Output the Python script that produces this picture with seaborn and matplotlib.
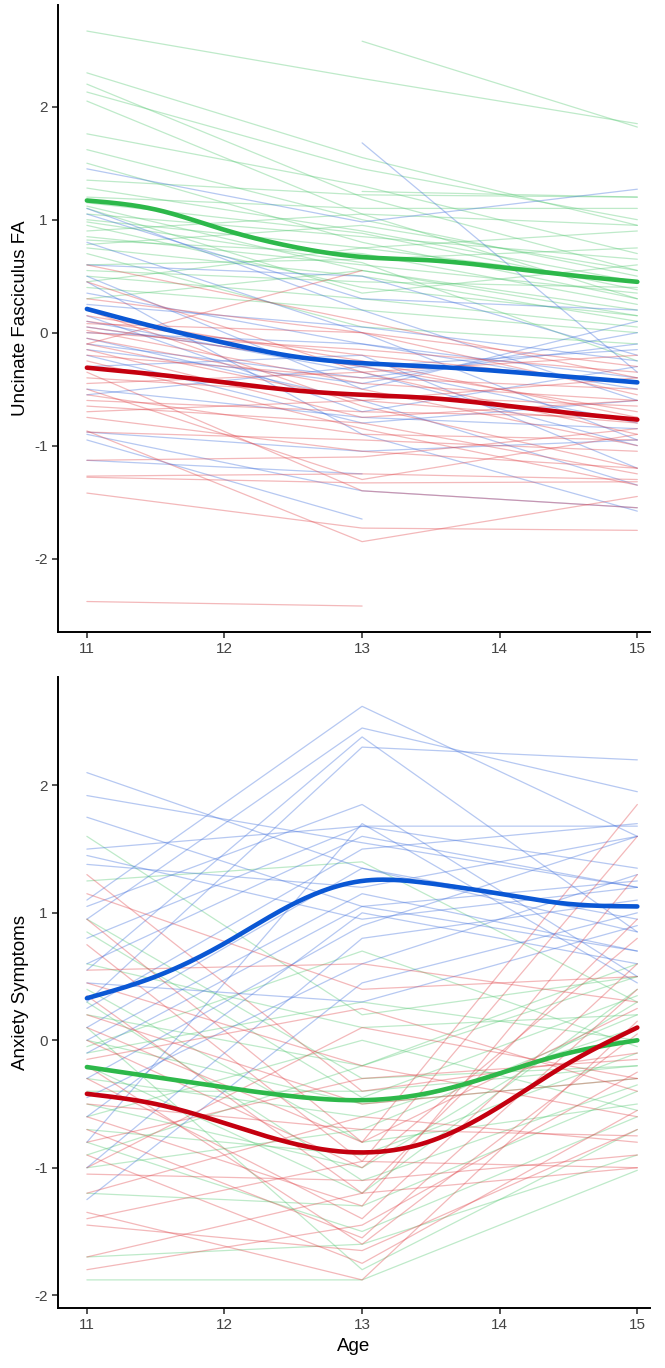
import matplotlib

matplotlib.use("Agg")
import matplotlib.pyplot as plt
import numpy as np
import pandas as pd
import seaborn as sns

sns.set_theme(style="ticks")
plt.rcParams["font.family"] = ["Liberation Sans", "DejaVu Sans"]
plt.rcParams["axes.unicode_minus"] = False

nan = np.nan
AGES = [11, 13, 15]
MEAN_AGES = [11, 11.5, 12, 12.5, 13, 13.5, 14, 14.5, 15]
GROUPS = ["green", "blue", "red"]

# ── Panel 1: Uncinate Fasciculus FA, one (age 11, 13, 15) tuple per subject ──
fa_green = [
    (2.67, 2.25, 1.85), (nan, 2.58, 1.82), (2.30, 1.55, 0.95), (2.20, 1.20, 0.55),
    (2.13, 1.45, 1.00), (2.05, 1.05, 0.30), (1.76, 1.30, 0.70), (1.35, 1.22, 1.20),
    (1.28, 0.90, 0.45), (1.20, 1.10, 1.10), (1.12, 0.55, 0.20), (1.05, 0.85, 0.65),
    (1.00, 0.75, 0.90), (0.95, 0.40, 0.15), (0.90, 1.05, 0.95), (0.85, 0.60, 0.35),
    (0.82, 0.70, 0.25), (0.78, 0.95, 0.55), (0.75, 0.50, 0.10), (0.60, 0.65, 0.75),
    (0.55, 0.45, 0.40), (0.50, 0.30, 0.05), (0.45, 0.75, 0.45), (0.40, 0.20, 0.00),
    (1.50, 0.80, 0.30), (1.10, 0.35, 0.60), (0.70, 0.05, -0.10), (0.30, 0.55, 0.15),
    (1.62, 1.00, 0.50), (nan, 1.25, 1.20), (0.98, 0.62, -0.25), (1.15, 0.88, 0.38),
]
fa_blue = [
    (1.45, 0.98, 1.27), (nan, 1.68, -0.35), (1.10, 0.20, -0.60), (1.05, 0.30, 0.20),
    (0.60, 0.50, -0.20), (0.35, -0.10, -0.50), (0.25, 0.05, -0.25), (0.10, -0.35, -1.00),
    (0.05, -0.30, -0.80), (0.00, -0.10, -0.40), (-0.05, -0.60, -1.35), (-0.10, -0.40, -0.10),
    (-0.20, -0.80, -0.60), (-0.50, -0.75, -0.85), (-0.55, -0.30, -0.15), (-0.88, -1.05, -0.95),
    (-0.95, -1.65, nan), (-1.13, -1.25, nan), (-0.90, -1.40, -1.55), (0.50, -0.50, 0.10),
    (0.80, 0.00, -0.95), (0.15, -0.70, -0.30), (-0.30, -0.20, -1.20), (0.45, -0.90, -1.58),
    (-0.15, -0.45, 0.00),
]
fa_red = [
    (0.60, 0.10, -0.40), (-0.10, 0.55, nan), (0.45, -0.35, -0.90), (0.30, 0.00, -0.30),
    (0.10, -0.20, -0.45), (0.05, -0.30, -0.70), (0.02, -0.45, -0.60), (0.00, -0.15, -0.35),
    (-0.05, -0.50, -1.00), (-0.10, -0.60, -0.80), (-0.20, -0.40, -0.50), (-0.40, -0.55, -0.65),
    (-0.55, -0.90, -0.95), (-0.60, -0.70, -0.75), (-0.65, -0.80, -1.25), (-0.70, -0.60, -0.40),
    (-0.88, -0.95, -1.05), (-1.13, -1.10, -0.85), (-1.27, -1.25, -1.30), (-1.28, -1.33, -1.32),
    (-1.42, -1.73, -1.75), (-0.87, -1.85, -1.45), (-2.38, -2.42, nan), (-0.35, -1.40, -1.55),
    (0.20, -0.65, -1.20), (-0.25, -0.85, -1.35), (0.15, -0.25, -0.75), (-0.45, -0.35, -0.20),
    (-0.75, -1.05, -1.20), (0.08, 0.00, -0.55), (-0.15, -0.75, -0.60), (-0.50, -1.30, -0.90),
]
# smoothed group trajectories read at half-year steps
fa_mean_green = [1.17, 1.09, 0.91, 0.76, 0.67, 0.64, 0.58, 0.51, 0.45]
fa_mean_blue = [0.21, 0.05, -0.09, -0.21, -0.27, -0.30, -0.34, -0.39, -0.44]
fa_mean_red = [-0.31, -0.37, -0.44, -0.51, -0.55, -0.58, -0.64, -0.71, -0.77]

# ── Panel 2: Anxiety Symptoms ──
anx_green = [
    (1.60, 0.20, 0.50), (1.25, 1.40, 0.30), (0.95, -0.30, -0.20), (0.60, 0.10, 0.20),
    (0.40, -0.80, -0.50), (0.20, -0.20, 0.60), (0.00, -0.50, -0.30), (-0.10, 0.30, 0.00),
    (-0.20, -1.20, 0.40), (-0.30, -0.60, 0.10), (-0.40, -0.40, -0.20), (-0.50, -1.00, 0.30),
    (-0.60, 0.00, -0.55), (-0.70, -0.90, -0.10), (-0.80, -1.50, -0.60), (-1.00, -0.70, 0.20),
    (-1.20, -1.30, -0.40), (-1.70, -1.60, -0.90), (-1.88, -1.88, -1.02), (0.85, -0.45, 0.35),
    (-0.05, 0.70, -0.05), (0.30, -1.10, -0.35), (-0.90, -0.20, 0.50), (0.10, -1.80, -0.70),
]
anx_blue = [
    (2.10, 1.35, 0.85), (1.92, 1.55, 1.20), (1.75, 1.05, 0.70), (1.50, 1.68, 1.68),
    (1.38, 1.20, 1.60), (1.10, 2.62, 1.60), (0.95, 2.45, 1.95), (0.55, 2.38, 0.85),
    (0.30, 2.30, 2.20), (1.05, 1.85, 0.50), (0.80, 1.68, 1.35), (0.60, 1.60, 1.20),
    (0.25, 1.50, 1.70), (0.10, 1.35, 0.95), (-0.10, 1.05, 1.25), (-0.30, 0.90, 1.60),
    (-0.60, 1.00, 0.60), (-0.80, 1.70, 0.45), (-1.00, 0.80, 1.10), (-1.25, 0.45, 1.00),
    (0.45, 0.30, 0.90), (0.00, 1.15, 0.70), (1.45, 0.95, 1.20), (-0.45, 0.60, 1.30),
]
anx_red = [
    (1.30, -0.40, -0.10), (1.15, 0.40, 0.50), (0.95, -0.80, 1.85), (0.55, 0.60, 0.30),
    (0.35, -1.20, 0.95), (0.20, -0.50, -0.30), (0.00, -1.00, 0.80), (-0.15, 0.25, -0.40),
    (-0.30, -1.40, 0.60), (-0.50, -0.70, -0.75), (-0.70, -1.55, 0.40), (-0.80, -0.30, -0.15),
    (-0.90, -1.75, -0.55), (-1.05, -1.10, -0.90), (-1.20, -0.60, -0.80), (-1.35, -1.88, 0.15),
    (-1.40, -0.95, -1.00), (-1.45, -1.65, -0.70), (-1.70, -1.20, -1.00), (-1.80, -1.45, -0.25),
    (0.75, -0.95, 1.60), (-0.20, -1.60, 0.05), (0.45, -0.20, -0.60), (-0.60, -1.30, 1.30),
    (-1.00, 0.10, -0.30), (0.10, -0.80, 0.25),
]
anx_mean_green = [-0.21, -0.29, -0.37, -0.44, -0.47, -0.41, -0.26, -0.10, 0.00]
anx_mean_blue = [0.33, 0.50, 0.76, 1.07, 1.25, 1.23, 1.15, 1.07, 1.05]
anx_mean_red = [-0.42, -0.50, -0.65, -0.81, -0.88, -0.79, -0.52, -0.18, 0.10]

THIN = {"green": "#55c873", "blue": "#3f6fdc", "red": "#e0454a"}
THICK = {"green": "#2db84a", "blue": "#0a57d4", "red": "#c4000f"}


def long_frame(groups: dict) -> pd.DataFrame:
    rows = []
    for g, subjects in groups.items():
        for i, vals in enumerate(subjects):
            for age, v in zip(AGES, vals):
                rows.append({"age": age, "value": v, "subject": f"{g}{i}", "group": g})
    return pd.DataFrame(rows)


def natural_spline(x, y, xq):
    # plain natural cubic spline, only to draw the read means as a smooth curve
    x, y = np.asarray(x, float), np.asarray(y, float)
    n = len(x)
    h = np.diff(x)
    A = np.zeros((n, n))
    b = np.zeros(n)
    A[0, 0] = A[-1, -1] = 1.0
    for i in range(1, n - 1):
        A[i, i - 1] = h[i - 1]
        A[i, i] = 2 * (h[i - 1] + h[i])
        A[i, i + 1] = h[i]
        b[i] = 3 * ((y[i + 1] - y[i]) / h[i] - (y[i] - y[i - 1]) / h[i - 1])
    c = np.linalg.solve(A, b)
    bb = (y[1:] - y[:-1]) / h - h * (2 * c[:-1] + c[1:]) / 3
    d = (c[1:] - c[:-1]) / (3 * h)
    idx = np.clip(np.searchsorted(x, xq) - 1, 0, n - 2)
    t = xq - x[idx]
    return y[idx] + bb[idx] * t + c[idx] * t**2 + d[idx] * t**3


def smooth_frame(means: dict) -> pd.DataFrame:
    grid = np.linspace(11, 15, 200)
    parts = []
    for g, m in means.items():
        parts.append(pd.DataFrame({"age": grid, "value": natural_spline(MEAN_AGES, m, grid),
                                   "group": g}))
    return pd.concat(parts, ignore_index=True)


def draw_panel(ax, groups, means, ylim, ylabel, xlabel):
    df = long_frame(groups)
    sns.lineplot(data=df, x="age", y="value", units="subject", estimator=None,
                 hue="group", hue_order=GROUPS, palette=THIN, alpha=0.38,
                 linewidth=0.9, legend=False, ax=ax)
    sm = smooth_frame(means)
    sns.lineplot(data=sm, x="age", y="value", hue="group", hue_order=GROUPS,
                 palette=THICK, linewidth=3.3, legend=False, ax=ax)
    ax.set_xlim(10.79, 15.09)
    ax.set_ylim(*ylim)
    ax.set_xticks([11, 12, 13, 14, 15])
    ax.set_yticks([-2, -1, 0, 1, 2])
    ax.set_ylabel(ylabel, fontsize=13.5, color="black")
    ax.set_xlabel(xlabel, fontsize=13.5, color="black")
    ax.tick_params(labelsize=11, labelcolor="#444444", length=4, width=1.1)
    sns.despine(ax=ax)
    for s in ("left", "bottom"):
        ax.spines[s].set_linewidth(1.4)
        ax.spines[s].set_color("black")


fig = plt.figure(figsize=(6.65, 13.68), dpi=100)
ax1 = fig.add_axes([0.0872, 0.538, 0.8898, 0.4583])
ax2 = fig.add_axes([0.0872, 0.0439, 0.8898, 0.4612])

draw_panel(ax1, {"green": fa_green, "blue": fa_blue, "red": fa_red},
           {"green": fa_mean_green, "blue": fa_mean_blue, "red": fa_mean_red},
           (-2.65, 2.9), "Uncinate Fasciculus FA", "")
draw_panel(ax2, {"green": anx_green, "blue": anx_blue, "red": anx_red},
           {"green": anx_mean_green, "blue": anx_mean_blue, "red": anx_mean_red},
           (-2.1, 2.85), "Anxiety Symptoms", "Age")

fig.savefig("out.png", dpi=100)
plt.close(fig)
